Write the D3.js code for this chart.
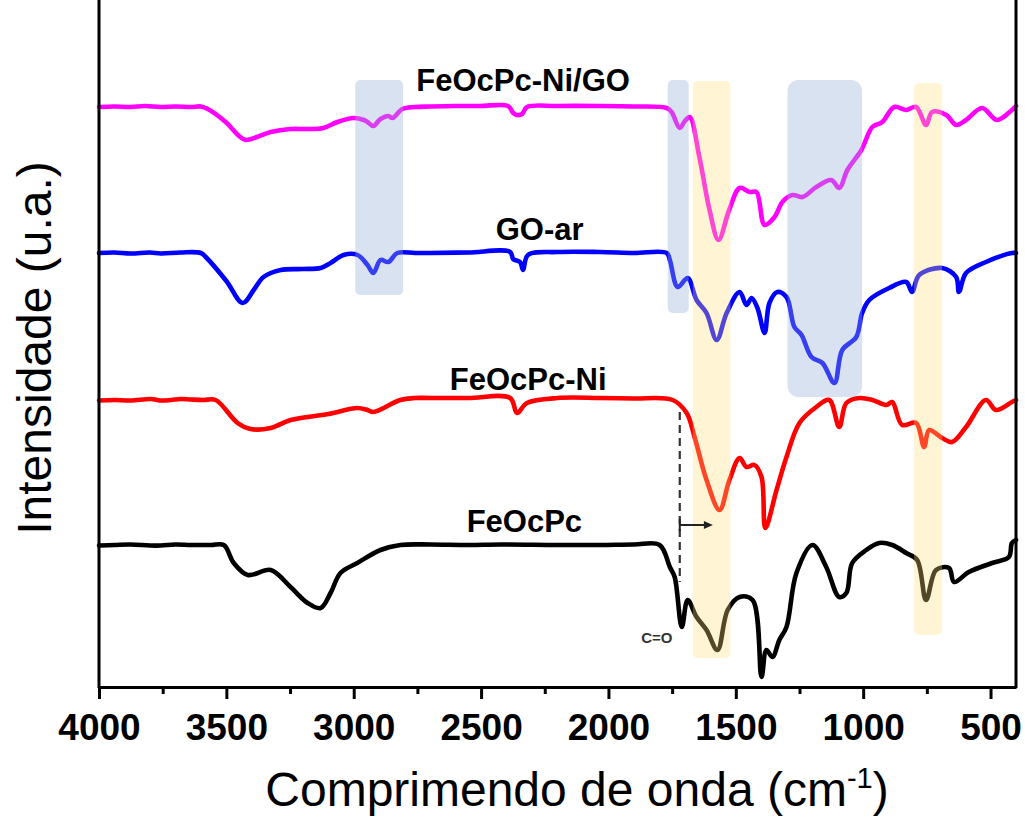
<!DOCTYPE html>
<html>
<head>
<meta charset="utf-8">
<script src="https://cdn.jsdelivr.net/npm/d3@7/dist/d3.min.js"></script>
<style>
  html, body { margin: 0; padding: 0; background: #ffffff; }
  svg { display: block; font-family: "Liberation Sans", Arial, sans-serif; }
</style>
</head>
<body>
<svg id="chart" width="1025" height="821"></svg>
<script>
// FTIR spectra, stacked with vertical offsets: [wavenumber (cm-1), intensity (a.u.)]
const feocpcNiGO = [
  [4000, 579], [3940, 579.5], [3875, 579], [3820, 580], [3757, 579], [3700, 579.5], [3640, 579],
  [3600, 579.5], [3573, 577], [3503, 564], [3450, 550], [3424, 546], [3380, 549], [3326, 554],
  [3248, 557], [3180, 557], [3119, 558], [3064, 564], [3001, 568], [2960, 566], [2946, 564],
  [2923, 560], [2895, 567], [2864, 570], [2848, 568], [2809, 577], [2760, 579], [2700, 579.5],
  [2600, 580], [2504, 580], [2394, 580], [2374, 573], [2359, 571], [2339, 572], [2320, 579],
  [2200, 580], [2034, 580], [1900, 579.5], [1771, 578], [1752, 574], [1720, 558], [1700, 565],
  [1681, 569], [1643, 529], [1603, 476], [1568, 446], [1526, 476], [1485, 498], [1446, 494],
  [1419, 494], [1387, 461], [1348, 469], [1317, 484], [1278, 491], [1238, 489], [1184, 499],
  [1125, 506], [1094, 498], [1062, 516], [1007, 536], [964, 559], [925, 564], [878, 579],
  [831, 576], [792, 579], [753, 561], [729, 574], [674, 571], [635, 561], [596, 566],
  [533, 578], [475, 566], [416, 576], [400, 580]
];

const goAr = [
  [4000, 433], [3940, 433.5], [3875, 432.5], [3800, 433.5], [3757, 432.5], [3680, 433.5], [3600, 433],
  [3581, 429], [3500, 405], [3436, 383], [3390, 397], [3354, 409], [3287, 416], [3200, 417],
  [3130, 418], [3091, 423], [3040, 431], [2985, 431], [2946, 421], [2923, 413], [2895, 426],
  [2864, 424], [2829, 433], [2760, 433], [2700, 433], [2550, 433.5], [2386, 434], [2374, 427],
  [2347, 424], [2335, 416], [2316, 431], [2200, 434], [2034, 434], [1900, 433], [1771, 433],
  [1759, 426], [1728, 399], [1689, 408], [1654, 386], [1615, 373], [1575, 346], [1536, 373],
  [1485, 394], [1458, 381], [1438, 388], [1415, 378], [1387, 353], [1368, 383], [1337, 394],
  [1301, 389], [1270, 359], [1242, 351], [1203, 329], [1160, 323], [1113, 303], [1082, 336],
  [1027, 349], [1004, 373], [976, 386], [898, 398], [831, 404], [808, 394], [780, 411],
  [690, 418], [635, 409], [624, 394], [596, 413], [518, 424], [416, 433], [400, 433]
];

const feocpcNi = [
  [4000, 285.5], [3940, 286], [3875, 285.5], [3796, 287], [3760, 285.5], [3718, 286], [3680, 287],
  [3640, 286.5], [3590, 286], [3542, 286], [3456, 263], [3405, 257], [3326, 258], [3248, 266],
  [3100, 272], [2986, 278], [2946, 276], [2923, 274], [2817, 286], [2760, 288], [2700, 288],
  [2550, 288], [2386, 288], [2359, 273], [2320, 283], [2200, 288], [2034, 288], [1900, 287.5],
  [1748, 286], [1693, 273], [1662, 249], [1615, 206], [1564, 176], [1525, 206], [1485, 228],
  [1458, 219], [1427, 221], [1399, 209], [1384, 158], [1340, 196], [1301, 229], [1250, 263],
  [1184, 279], [1133, 286], [1094, 259], [1066, 283], [1015, 288], [964, 286], [909, 281],
  [886, 284], [847, 261], [792, 263], [761, 239], [741, 256], [690, 248], [651, 244],
  [596, 259], [518, 286], [479, 276], [416, 284], [400, 286]
];

const feocpc = [
  [4000, 140.5], [3940, 141], [3875, 141.5], [3800, 140.5], [3757, 140.5], [3700, 141.5], [3640, 141],
  [3560, 141], [3510, 141], [3471, 123], [3416, 111], [3326, 116], [3248, 99], [3181, 83],
  [3130, 78], [3091, 93], [3052, 113], [2986, 123], [2895, 136], [2817, 141], [2700, 141.5],
  [2550, 141], [2425, 141.5], [2200, 141], [2034, 141], [1900, 141.5], [1799, 141], [1759, 119],
  [1740, 109], [1712, 59], [1689, 86], [1654, 69], [1615, 56], [1572, 36], [1532, 76],
  [1485, 89], [1434, 86], [1399, 9], [1380, 36], [1356, 29], [1329, 46], [1301, 59],
  [1262, 113], [1199, 141], [1145, 119], [1094, 89], [1066, 93], [1043, 123], [988, 136],
  [937, 143], [886, 141], [831, 133], [788, 126], [753, 86], [714, 116], [663, 118],
  [643, 104], [585, 114], [494, 123], [428, 129], [416, 143], [400, 146]
];

const seriesNames = ["FeOcPc-Ni/GO", "GO-ar", "FeOcPc-Ni", "FeOcPc"];
const seriesColors = ["#ff00ff", "#0000ff", "#ff0000", "#000000"];
const seriesData = [feocpcNiGO, goAr, feocpcNi, feocpc];
// label anchor: [wavenumber at label centre, intensity at baseline]
const labelAnchors = [[2335, 595], [2270, 446], [2315, 296], [2330, 154]];

// highlighted absorption regions: [from cm-1, to cm-1, lower, upper]
const blueBands = [[2994, 2806, 391, 606], [1767, 1685, 373, 606], [1297, 1004, 289, 606]];
const yellowBands = [[1669, 1521, 28, 605], [800, 690, 51, 603]];

const majorTicks = [4000, 3500, 3000, 2500, 2000, 1500, 1000, 500];
const minorTicks = [3750, 3250, 2750, 2250, 1750, 1250, 750];

// C=O reference marker and shift arrow
const carbonylWn = 1720;
const carbonylSpan = [274, 104];
const shiftArrow = [1720, 1590, 161];

const svg = d3.select("#chart");
const W = 1025, H = 821;
svg.append("rect").attr("width", W).attr("height", H).attr("fill", "#ffffff");

const x = d3.scaleLinear().domain([4000, 400]).range([99, 1016]);
const y = d3.scaleLinear().domain([0, 606]).range([686, 80]);

const line = d3.line()
  .x(d => x(d[0]))
  .y(d => y(d[1]))
  .curve(d3.curveCatmullRom.alpha(0.5));

// spectra
const plot = svg.append("g");
seriesData.forEach((s, i) => {
  plot.append("path")
    .datum(s)
    .attr("fill", "none")
    .attr("stroke", seriesColors[i])
    .attr("stroke-width", 4.6)
    .attr("stroke-linejoin", "round")
    .attr("stroke-linecap", "round")
    .attr("d", line);
});

// translucent highlight bands over the spectra
const bandG = svg.append("g");
blueBands.forEach((b, i) => {
  bandG.append("rect")
    .attr("x", x(b[0])).attr("width", x(b[1]) - x(b[0]))
    .attr("y", y(b[3])).attr("height", y(b[2]) - y(b[3]))
    .attr("rx", i === 2 ? 11 : 5)
    .attr("fill", "rgb(150,176,216)")
    .attr("fill-opacity", 0.36);
});
yellowBands.forEach(b => {
  bandG.append("rect")
    .attr("x", x(b[0])).attr("width", x(b[1]) - x(b[0]))
    .attr("y", y(b[3])).attr("height", y(b[2]) - y(b[3]))
    .attr("rx", 5)
    .attr("fill", "rgb(255,222,120)")
    .attr("fill-opacity", 0.32);
});

// dashed C=O guide
svg.append("line")
  .attr("x1", x(carbonylWn)).attr("x2", x(carbonylWn))
  .attr("y1", y(carbonylSpan[0])).attr("y2", y(carbonylSpan[1]))
  .attr("stroke", "#333333").attr("stroke-width", 2.2)
  .attr("stroke-dasharray", "8,5");

// shift arrow
const ay = y(shiftArrow[2]);
svg.append("line")
  .attr("x1", x(shiftArrow[0])).attr("x2", x(shiftArrow[0]))
  .attr("y1", ay - 6).attr("y2", ay + 6)
  .attr("stroke", "#222").attr("stroke-width", 2);
svg.append("line")
  .attr("x1", x(shiftArrow[0])).attr("x2", x(shiftArrow[1]) - 6)
  .attr("y1", ay).attr("y2", ay)
  .attr("stroke", "#222").attr("stroke-width", 2);
svg.append("path")
  .attr("d", `M${x(shiftArrow[1])},${ay} l-9,-4 l0,8 z`)
  .attr("fill", "#222");

svg.append("text")
  .attr("x", x(carbonylWn) - 23).attr("y", 643)
  .attr("text-anchor", "middle")
  .attr("font-size", 15).attr("font-weight", "bold")
  .attr("fill", "#333")
  .text("C=O");

// series labels
seriesNames.forEach((n, i) => {
  svg.append("text")
    .attr("x", x(labelAnchors[i][0])).attr("y", y(labelAnchors[i][1]))
    .attr("text-anchor", "middle")
    .attr("font-size", 31).attr("font-weight", "bold")
    .attr("fill", "#000")
    .text(n);
});

// frame: left, right, bottom
svg.append("line").attr("x1", x(4000)).attr("x2", x(4000)).attr("y1", 0).attr("y2", 688)
  .attr("stroke", "#000").attr("stroke-width", 3);
svg.append("line").attr("x1", x(400)).attr("x2", x(400)).attr("y1", 0).attr("y2", 688)
  .attr("stroke", "#000").attr("stroke-width", 3);

const axisY = 687;
const xAxis = svg.append("g")
  .attr("transform", `translate(0,${axisY})`)
  .call(d3.axisBottom(x).tickValues(majorTicks).tickSize(12).tickSizeOuter(0).tickPadding(15)
    .tickFormat(d3.format("d")));
xAxis.select(".domain").attr("stroke-width", 3).attr("stroke", "#000");
xAxis.selectAll(".tick line").attr("stroke-width", 3).attr("stroke", "#000");
xAxis.selectAll(".tick text")
  .attr("font-family", "'Liberation Sans', Arial, sans-serif")
  .attr("font-size", 37).attr("font-weight", "bold").attr("fill", "#000");

const minorAxis = svg.append("g")
  .attr("transform", `translate(0,${axisY})`)
  .call(d3.axisBottom(x).tickValues(minorTicks).tickSize(7).tickSizeOuter(0).tickFormat(""));
minorAxis.select(".domain").remove();
minorAxis.selectAll(".tick line").attr("stroke-width", 3).attr("stroke", "#000");

// axis titles
const xt = svg.append("text")
  .attr("x", 577).attr("y", 806)
  .attr("text-anchor", "middle")
  .attr("font-size", 48).attr("fill", "#000");
xt.append("tspan").text("Comprimendo de onda (cm");
xt.append("tspan").attr("font-size", 29).attr("dy", -18).text("-1");
xt.append("tspan").attr("dy", 18).text(")");

svg.append("text")
  .attr("transform", "translate(51,348) rotate(-90)")
  .attr("text-anchor", "middle")
  .attr("font-size", 48).attr("fill", "#000")
  .text("Intensidade (u.a.)");
</script>
</body>
</html>
